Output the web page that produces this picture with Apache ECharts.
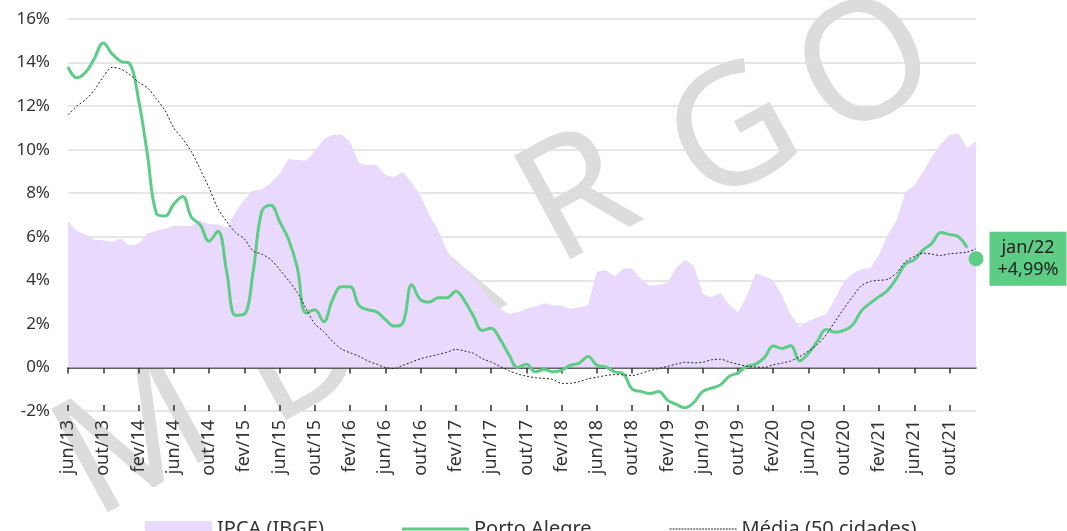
<!DOCTYPE html>
<html>
<head>
<meta charset="utf-8">
<script src="https://cdn.jsdelivr.net/npm/echarts@6/dist/echarts.min.js"></script>
<style>
html,body{margin:0;padding:0;background:#fff;}
#chart{width:1067px;height:531px;}
</style>
</head>
<body>
<div id="chart"></div>
<script>
const categories = [
'jun/13','jul/13','ago/13','set/13','out/13','nov/13','dez/13',
'jan/14','fev/14','mar/14','abr/14','mai/14','jun/14','jul/14','ago/14','set/14','out/14','nov/14','dez/14',
'jan/15','fev/15','mar/15','abr/15','mai/15','jun/15','jul/15','ago/15','set/15','out/15','nov/15','dez/15',
'jan/16','fev/16','mar/16','abr/16','mai/16','jun/16','jul/16','ago/16','set/16','out/16','nov/16','dez/16',
'jan/17','fev/17','mar/17','abr/17','mai/17','jun/17','jul/17','ago/17','set/17','out/17','nov/17','dez/17',
'jan/18','fev/18','mar/18','abr/18','mai/18','jun/18','jul/18','ago/18','set/18','out/18','nov/18','dez/18',
'jan/19','fev/19','mar/19','abr/19','mai/19','jun/19','jul/19','ago/19','set/19','out/19','nov/19','dez/19',
'jan/20','fev/20','mar/20','abr/20','mai/20','jun/20','jul/20','ago/20','set/20','out/20','nov/20','dez/20',
'jan/21','fev/21','mar/21','abr/21','mai/21','jun/21','jul/21','ago/21','set/21','out/21','nov/21','dez/21',
'jan/22'
];

const ipca = [
6.70, 6.27, 6.09, 5.86, 5.84, 5.77, 5.91,
5.59, 5.68, 6.15, 6.28, 6.37, 6.52, 6.50, 6.51, 6.75, 6.59, 6.56, 6.41,
7.14, 7.70, 8.13, 8.17, 8.47, 8.89, 9.56, 9.53, 9.49, 9.93, 10.48, 10.67,
10.71, 10.36, 9.39, 9.28, 9.32, 8.84, 8.74, 8.97, 8.48, 7.87, 6.99, 6.29,
5.35, 4.76, 4.57, 4.08, 3.60, 3.00, 2.71, 2.46, 2.54, 2.70, 2.80, 2.95,
2.86, 2.84, 2.68, 2.76, 2.86, 4.39, 4.48, 4.19, 4.53, 4.56, 4.05, 3.75,
3.78, 3.89, 4.58, 4.94, 4.66, 3.37, 3.22, 3.43, 2.89, 2.54, 3.27, 4.31,
4.19, 4.01, 3.30, 2.40, 1.88, 2.13, 2.31, 2.44, 3.14, 3.92, 4.31, 4.52,
4.56, 5.20, 6.10, 6.76, 8.06, 8.35, 8.99, 9.68, 10.25, 10.67, 10.74, 10.06,
10.38
];

const portoAlegre = [
13.8, 13.3, 13.55, 14.2, 14.9, 14.4, 14.05, 13.95, 12.3, 9.8,
7.1, 6.95, 7.5, 7.85, 6.9, 6.55, 5.8, 6.25, 4.4, 2.4,
2.45, 4.4, 7.2, 7.45, 6.7, 5.9, 4.6, 2.5, 2.65, 2.1,
3.1, 3.7, 3.7, 2.85, 2.65, 2.55, 2.2, 1.9, 2.05, 3.8,
3.1, 3.0, 3.2, 3.2, 3.5, 3.05, 2.35, 1.7, 1.8, 1.3,
0.6, 0.0, 0.15, -0.2, -0.1, -0.2, -0.12, 0.1, 0.2, 0.5,
0.1, 0.03, -0.2, -0.3, -1.0, -1.1, -1.2, -1.1, -1.5, -1.7,
-1.85, -1.6, -1.1, -0.95, -0.8, -0.4, -0.25, 0.05, 0.15, 0.45,
0.98, 0.87, 1.0, 0.3, 0.65, 1.2, 1.74, 1.62, 1.7, 1.95,
2.6, 2.95, 3.25, 3.55, 4.1, 4.75, 4.95, 5.4, 5.7, 6.2,
6.1, 6.0, 5.5, null
];

const media50 = [
11.6, 12.0, 12.3, 12.75, 13.35, 13.78, 13.7, 13.45, 13.1, 12.85,
12.35, 11.8, 11.0, 10.5, 9.9, 9.1, 8.25, 7.3, 6.7, 6.2,
5.9, 5.35, 5.2, 4.95, 4.5, 4.0, 3.45, 2.7, 2.0, 1.65,
1.2, 0.85, 0.67, 0.52, 0.3, 0.15, 0.0, -0.05, 0.1, 0.25,
0.4, 0.5, 0.6, 0.7, 0.83, 0.75, 0.65, 0.4, 0.25, 0.05,
-0.15, -0.3, -0.4, -0.47, -0.5, -0.55, -0.73, -0.73, -0.65, -0.52,
-0.45, -0.37, -0.33, -0.34, -0.37, -0.27, -0.15, -0.05, 0.05, 0.15,
0.24, 0.21, 0.24, 0.35, 0.38, 0.25, 0.15, 0.05, 0.02, 0.0,
0.12, 0.2, 0.3, 0.5, 0.75, 1.05, 1.5, 2.1, 2.7, 3.25,
3.75, 3.95, 4.0, 4.05, 4.35, 4.85, 5.1, 5.25, 5.2, 5.14,
5.22, 5.25, 5.3, 5.44
];

const latestLabel = 'jan/22';
const latestValue = 4.99;
const latestText = '+4,99%';

const seriesNames = ['IPCA (IBGE)', 'Porto Alegre', 'Média (50 cidades)'];
const yTicks = { min: -2, max: 16, interval: 2 };

const watermarkLetters = ['M', 'D', 'A', 'R', 'G', 'O'];

const FONT = 'Noto Sans';
const PURPLE = '#e9dafd';
const GREEN = '#5dcc85';

const chart = echarts.init(document.getElementById('chart'), null, { renderer: 'canvas' });

const wmPos = [[137, 443], [302, 358], [439, 288], [579, 201], [735, 138], [868, 70]];
const graphics = watermarkLetters.map((ch, k) => ({
  type: 'text',
  x: wmPos[k][0],
  y: wmPos[k][1],
  rotation: 0.5,
  z: -10,
  silent: true,
  style: {
    text: ch,
    fill: '#dcdcdc',
    font: 'normal 165px "Noto Sans"',
    align: 'center',
    verticalAlign: 'middle'
  }
}));

const lastIdx = categories.indexOf(latestLabel);
const latestData = categories.map((c, i) => (i === lastIdx ? latestValue : null));

// legend icon paths (shape only)
const solidLinePath = 'path://M0,0L67,0L67,3L0,3Z';
let dots = '';
for (let x = 0; x < 67; x += 3) dots += 'M' + x + ',0L' + (x + 2) + ',0L' + (x + 2) + ',1L' + x + ',1Z';
const dottedLinePath = 'path://' + dots;

const baseX = {
  type: 'category',
  data: categories,
  boundaryGap: false
};

chart.setOption({
  animation: false,
  backgroundColor: '#ffffff',
  graphic: { z: -10, elements: graphics },
  grid: { left: 68, right: 91, top: 19, bottom: 120, containLabel: false },
  legend: {
    left: 140,
    top: 514,
    itemWidth: 67,
    itemHeight: 16,
    itemGap: 78,
    textStyle: { fontFamily: FONT, fontSize: 20, color: '#333' },
    data: [
      { name: seriesNames[0], icon: 'rect' },
      { name: seriesNames[1], icon: solidLinePath },
      { name: seriesNames[2], icon: dottedLinePath }
    ]
  },
  xAxis: [
    Object.assign({}, baseX, {
      position: 'bottom',
      axisLine: { show: false, onZero: false },
      axisTick: { show: false },
      splitLine: { show: false },
      axisLabel: {
        interval: 3,
        rotate: 90,
        margin: 9,
        fontFamily: FONT,
        fontSize: 18,
        color: '#333'
      }
    }),
    Object.assign({}, baseX, {
      position: 'bottom',
      axisLine: { show: true, onZero: true, lineStyle: { color: '#333', width: 1.5 } },
      axisTick: { show: true, interval: 3, length: 6, inside: false, lineStyle: { color: '#333', width: 1.5 } },
      axisLabel: { show: false },
      splitLine: { show: false }
    }),
    Object.assign({}, baseX, {
      position: 'bottom',
      axisLine: { show: false, onZero: true },
      axisTick: { show: true, interval: 3, length: 6, inside: true, lineStyle: { color: '#333', width: 1.5 } },
      axisLabel: { show: false },
      splitLine: { show: false }
    })
  ],
  yAxis: {
    type: 'value',
    min: yTicks.min,
    max: yTicks.max,
    interval: yTicks.interval,
    axisLine: { show: false },
    axisTick: { show: false },
    splitLine: { show: true, lineStyle: { color: '#dedede', width: 1.5 } },
    axisLabel: {
      formatter: '{value}%',
      margin: 18,
      fontFamily: FONT,
      fontSize: 17,
      color: '#333'
    }
  },
  series: [
    {
      name: seriesNames[0],
      type: 'line',
      data: ipca,
      symbol: 'none',
      smooth: false,
      z: 1,
      itemStyle: { color: PURPLE },
      lineStyle: { width: 0, color: PURPLE },
      areaStyle: { color: PURPLE, opacity: 1 }
    },
    {
      name: seriesNames[1],
      type: 'line',
      data: portoAlegre,
      symbol: 'none',
      smooth: 0.4,
      z: 3,
      itemStyle: { color: GREEN },
      lineStyle: { width: 3, color: GREEN }
    },
    {
      name: seriesNames[2],
      type: 'line',
      data: media50,
      symbol: 'none',
      smooth: 0.3,
      z: 4,
      itemStyle: { color: '#222' },
      lineStyle: { width: 1, color: '#222', type: [2, 2] }
    },
    {
      name: 'latest',
      type: 'scatter',
      data: latestData,
      symbolSize: 15,
      z: 5,
      itemStyle: { color: GREEN, opacity: 1 },
      label: {
        show: true,
        position: 'right',
        distance: 6,
        formatter: () => '{a|' + latestLabel + '}\n{a|' + latestText + '}',
        backgroundColor: GREEN,
        padding: [5, 7, 5, 7],
        rich: {
          a: { width: 63, align: 'center', lineHeight: 22, fontFamily: FONT, fontSize: 18, color: '#222' }
        }
      }
    }
  ]
});
</script>
</body>
</html>
